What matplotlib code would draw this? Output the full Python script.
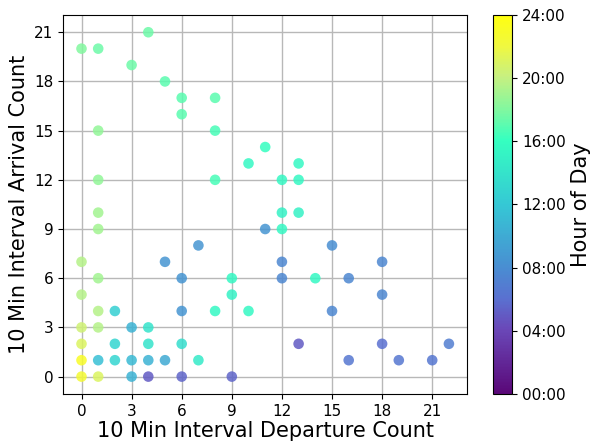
import matplotlib
matplotlib.use("Agg")
import matplotlib.pyplot as plt
from matplotlib.colors import LinearSegmentedColormap
from matplotlib.ticker import FuncFormatter, MultipleLocator

# departures, arrivals and hour of day per 10 minute interval
departures = [4, 0, 1, 3, 5, 6, 8, 6, 1, 8, 11, 10, 13, 1, 8, 12, 13, 1, 12, 13,
              1, 11, 12, 7, 15, 0, 5, 12, 18, 1, 6, 9, 12, 14, 16, 0, 9, 18, 1, 2,
              6, 8, 10, 15, 0, 1, 3, 4, 13, 18, 22, 0, 2, 4, 6, 0, 1, 2, 3, 4,
              5, 7, 16, 19, 21, 0, 1, 3, 4, 6, 9]
arrivals = [21, 20, 20, 19, 18, 17, 17, 16, 15, 15, 14, 13, 13, 12, 12, 12, 12, 10, 10, 10,
            9, 9, 9, 8, 8, 7, 7, 7, 7, 6, 6, 6, 6, 6, 6, 5, 5, 5, 4, 4,
            4, 4, 4, 4, 3, 3, 3, 3, 2, 2, 2, 2, 2, 2, 2, 1, 1, 1, 1, 1,
            1, 1, 1, 1, 1, 0, 0, 0, 0, 0, 0]
hours = [17.5, 18, 17.5, 17.5, 17, 17, 17, 17, 18.5, 16.5, 16, 15.5, 15.5, 18.5, 16.5, 15.5, 15.5, 19, 15, 15,
         19, 8.5, 15.5, 8.5, 8, 19.5, 8.5, 7.5, 7.5, 19, 8.5, 15.5, 7.5, 15.5, 7.5, 19.5, 15, 7.5, 19.5, 12.5,
         8.5, 15.5, 15.5, 7.5, 20.5, 19.5, 10.5, 14, 5, 6, 7, 21, 13, 14, 13.5, 23, 11.5, 13, 11, 10.5,
         10, 14.5, 6.5, 6.5, 6.5, 22.5, 21, 10.5, 5, 5.5, 5.5]

cmap = LinearSegmentedColormap.from_list("day", [
    (0.0, "#5a0878"),
    (0.17, "#6a48b8"),
    (0.25, "#5a70d0"),
    (0.34, "#4890d2"),
    (0.5, "#35c8d5"),
    (0.67, "#35ffc0"),
    (0.75, "#80f8a0"),
    (0.84, "#c8f080"),
    (0.92, "#f0f840"),
    (1.0, "#ffff10"),
])

fig = plt.figure(figsize=(5.9, 4.42), dpi=100)
ax = fig.add_axes([0.107, 0.109, 0.685, 0.857])
cax = fig.add_axes([0.836, 0.109, 0.032, 0.857])

sc = ax.scatter(departures, arrivals, c=hours, cmap=cmap, vmin=0, vmax=24,
                s=58, alpha=0.85, edgecolors="none", zorder=3)

ax.xaxis.set_major_locator(MultipleLocator(3))
ax.yaxis.set_major_locator(MultipleLocator(3))
ax.grid(True, color="#b8b8b8", linewidth=1, zorder=0)
ax.tick_params(labelsize=11)
ax.set_xlabel("10 Min Interval Departure Count", fontsize=15, labelpad=2)
ax.set_ylabel("10 Min Interval Arrival Count", fontsize=15)

cb = fig.colorbar(sc, cax=cax, ticks=range(0, 25, 4))
cb.solids.set_alpha(1)
cb.ax.yaxis.set_major_formatter(FuncFormatter(lambda v, p: f"{int(v):02d}:00"))
cb.ax.tick_params(labelsize=11)
cb.set_label("Hour of Day", fontsize=15)

fig.savefig("out.png", dpi=100)
